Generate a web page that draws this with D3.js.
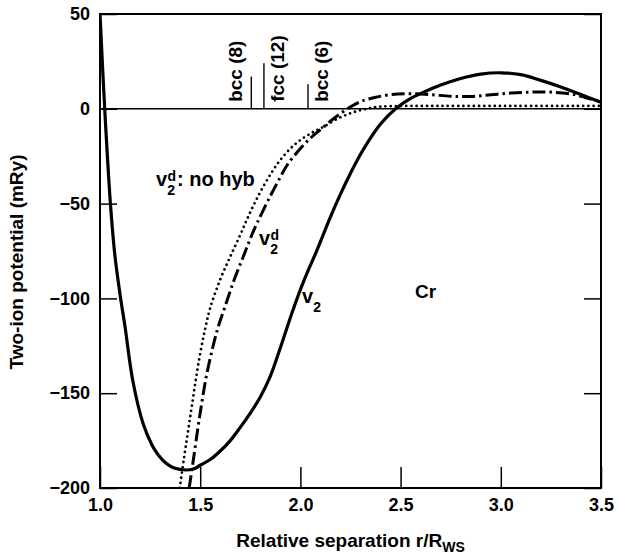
<!DOCTYPE html>
<html><head><meta charset="utf-8">
<script src="https://cdn.jsdelivr.net/npm/d3@7"></script>
<style>
body{margin:0;background:#fff}
svg{display:block}
text{font-family:"Liberation Sans",Arial,Helvetica,sans-serif;font-weight:bold;fill:#000}
</style></head><body>
<svg id="c" width="618" height="555"></svg>
<script>
// ---- data ----
const xTicks = [1.0, 1.5, 2.0, 2.5, 3.0, 3.5];
const yTicks = [50, 0, -50, -100, -150, -200];

// v2 (solid)
const v2 = [[1.00,50],[1.0235,0],[1.052,-50],[1.075,-78],[1.103,-100],[1.125,-115],[1.163,-143],
  [1.215,-166],[1.26,-177.5],[1.29,-182.5],[1.33,-187],[1.37,-189.5],[1.43,-190.5],[1.47,-189.8],[1.50,-188],
  [1.55,-185],[1.60,-180.5],[1.65,-175],[1.70,-168],[1.75,-160.5],[1.80,-152],[1.85,-141],[1.90,-126],
  [1.96,-107],[2.02,-90],[2.085,-74],[2.15,-57],[2.20,-45],[2.25,-34],[2.30,-24],[2.34,-17],[2.40,-8],
  [2.475,0],[2.55,5.5],[2.60,8],[2.70,12.5],[2.80,16],[2.90,18.3],[3.00,19],[3.10,18],[3.20,15],[3.30,11.5],
  [3.40,7.5],[3.50,3.5]];

// v2^d (dash-dot)
const v2d = [[1.445,-200],[1.462,-188],[1.485,-171],[1.505,-157],[1.529,-142],[1.56,-127],[1.59,-115],
  [1.625,-104],[1.67,-90],[1.715,-78],[1.75,-68.5],[1.785,-60],[1.85,-46],[1.90,-36],[1.935,-29.5],
  [2.00,-21],[2.05,-15.5],[2.10,-11],[2.15,-6.5],[2.20,-2.5],[2.25,1],[2.30,3.8],[2.365,5.8],[2.45,7.5],
  [2.55,8],[2.65,7.5],[2.75,6.6],[2.85,6.5],[2.95,7.4],[3.05,8.3],[3.15,8.8],[3.25,8.8],[3.35,7.8],
  [3.42,6],[3.50,3.7]];

// v2^d : no hybridization (dotted)
const noHyb = [[1.398,-200],[1.418,-185],[1.438,-171],[1.458,-157],[1.478,-143],[1.50,-129],[1.525,-116],
  [1.55,-105],[1.60,-90],[1.65,-78],[1.70,-66.5],[1.735,-58],[1.775,-49],[1.815,-41],[1.86,-33],
  [1.90,-27],[1.95,-21],[2.00,-16.5],[2.06,-12.5],[2.115,-9.5],[2.19,-5],[2.265,-1.8],[2.33,0],
  [2.385,1],[2.45,1.4],[2.60,1.5],[3.00,1.5],[3.50,1.5]];

// neighbour shells
const shellR = [1.755, 1.818, 2.038];
const shellH = [17, 24, 13];
const shellLabels = ["bcc (8)", "fcc (12)", "bcc (6)"];

// ---- layout ----
const L = 100, R = 601, T = 14, B = 488;
const svg = d3.select("#c");
const x = d3.scaleLinear().domain([1.0, 3.5]).range([L, R]);
const y = d3.scaleLinear().domain([-200, 50]).range([B, T]);

svg.append("defs").append("clipPath").attr("id","clip")
  .append("rect").attr("x",L).attr("y",T).attr("width",R-L).attr("height",B-T);

// axes
const gx = svg.append("g").attr("transform",`translate(0,${B})`)
  .call(d3.axisBottom(x).tickValues(xTicks).tickFormat(d3.format(".1f")).tickSize(-21).tickPadding(10));
const gy = svg.append("g").attr("transform",`translate(${L},0)`)
  .call(d3.axisLeft(y).tickValues(yTicks).tickFormat(d3.format("d")).tickSize(-17).tickPadding(10));
const gr = svg.append("g").attr("transform",`translate(${R},0)`)
  .call(d3.axisRight(y).tickValues(yTicks).tickFormat("").tickSize(-17));
[gx,gy,gr].forEach(g=>{
  g.select(".domain").remove();
  g.selectAll(".tick line").attr("stroke","#000").attr("stroke-width",1.5);
  g.selectAll("text").style("font-size","18px").attr("fill","#000");
});

// frame
svg.append("rect").attr("x",L).attr("y",T).attr("width",R-L).attr("height",B-T)
  .attr("fill","none").attr("stroke","#000").attr("stroke-width",2);

// zero line
svg.append("line").attr("x1",L).attr("x2",R).attr("y1",y(0)).attr("y2",y(0))
  .attr("stroke","#000").attr("stroke-width",1.4);

// shells
shellR.forEach((r,i)=>{
  svg.append("line").attr("x1",x(r)).attr("x2",x(r)).attr("y1",y(0)).attr("y2",y(shellH[i]))
    .attr("stroke","#000").attr("stroke-width",1.4);
});
const lblOff = [-9, 20, 20];
shellR.forEach((r,i)=>{
  const tx = x(r)+lblOff[i], ty = y(0)-7;
  svg.append("text").attr("transform",`translate(${tx},${ty}) rotate(-90)`)
    .style("font-size","19px").text(shellLabels[i]);
});

const line = d3.line().x(d=>x(d[0])).y(d=>y(d[1])).curve(d3.curveCatmullRom.alpha(0.5));
const g = svg.append("g").attr("clip-path","url(#clip)");
g.append("path").datum(noHyb).attr("d",line).attr("fill","none").attr("stroke","#000")
  .attr("stroke-width",2.8).attr("stroke-linecap","round").attr("stroke-dasharray","0,5.2");
g.append("path").datum(v2d).attr("d",line).attr("fill","none").attr("stroke","#000")
  .attr("stroke-width",3).attr("stroke-dasharray","13,4,2.5,4");
g.append("path").datum(v2).attr("d",line).attr("fill","none").attr("stroke","#000")
  .attr("stroke-width",3.2);

// labels: v with stacked sub/superscript (single text element each)
function vlab(xv, yb, sup, rest){
  const t = svg.append("text").attr("x",xv).attr("y",yb).style("font-size","20px");
  t.append("tspan").text("v");
  t.append("tspan").attr("dy",9).style("font-size","14px").text("2");
  if(sup){
    t.append("tspan").attr("dx",-7.5).attr("dy",-14).style("font-size","14px").text(sup);
  }
  if(rest){
    t.append("tspan").attr("dx",1).attr("dy",5).style("font-size","20px").text(rest);
  }
}
vlab(156,186,"d",": no hyb");
vlab(259,245,"d",null);
vlab(302,303,null,null);
svg.append("text").attr("x",415).attr("y",298).style("font-size","19px").text("Cr");

// axis titles
const xt = svg.append("text").attr("x",(L+R)/2).attr("y",547).attr("text-anchor","middle")
  .style("font-size","19px");
xt.append("tspan").text("Relative separation r/R");
xt.append("tspan").attr("dy",5).style("font-size","14px").text("WS");
svg.append("text").attr("transform",`translate(23,262) rotate(-90)`).attr("text-anchor","middle")
  .style("font-size","19px").text("Two-ion potential (mRy)");
</script></body></html>
